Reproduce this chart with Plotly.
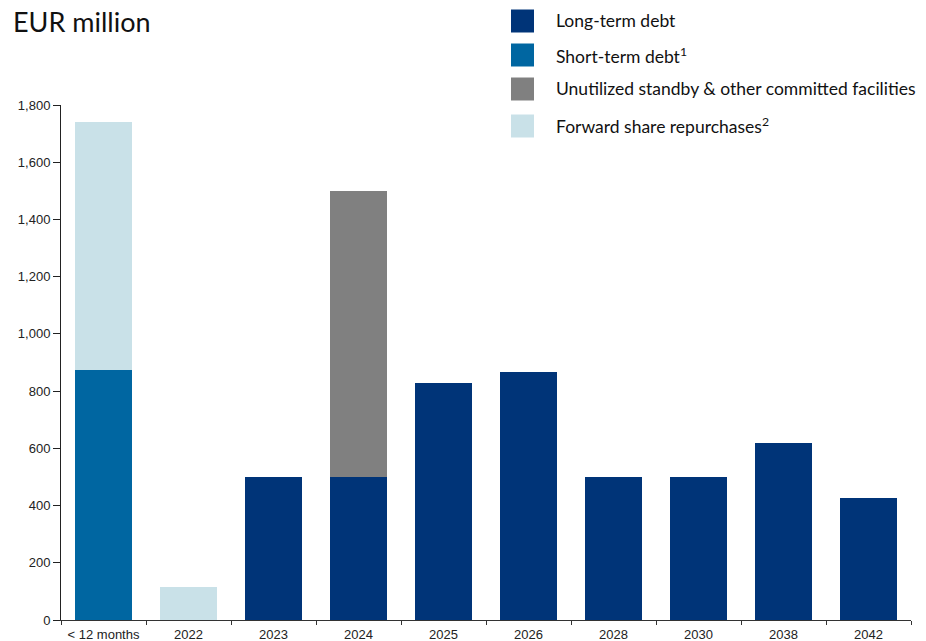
import plotly.graph_objects as go

# Maturity buckets on the x-axis
categories = ["< 12 months", "2022", "2023", "2024", "2025", "2026",
              "2028", "2030", "2038", "2042"]

# EUR million per bucket, by funding source
long_term_debt = [0, 0, 500, 500, 827, 868, 500, 500, 619, 426]
short_term_debt = [873, 0, 0, 0, 0, 0, 0, 0, 0, 0]
unutilized_facilities = [0, 0, 0, 1000, 0, 0, 0, 0, 0, 0]
forward_repurchases = [869, 115, 0, 0, 0, 0, 0, 0, 0, 0]

series_names = [
    "Long-term debt",
    "Short-term debt<sup>1</sup>",
    "Unutilized standby & other committed facilities",
    "Forward share repurchases<sup>2</sup>",
]
series_values = [long_term_debt, short_term_debt, unutilized_facilities, forward_repurchases]
series_colors = ["#003478", "#0066A1", "#808080", "#C9E1E8"]

y_ticks = [0, 200, 400, 600, 800, 1000, 1200, 1400, 1600, 1800]
y_tick_labels = ["0", "200", "400", "600", "800", "1,000", "1,200", "1,400", "1,600", "1,800"]

fig = go.Figure()
for name, vals, color in zip(series_names, series_values, series_colors):
    fig.add_trace(go.Bar(
        x=categories, y=vals, name=name,
        marker=dict(color=color, line=dict(width=0)),
        showlegend=False,
    ))

W, H = 926, 641
m_l, m_r, m_t, m_b = 61, 15, 105, 21

tick_font = dict(family="Liberation Sans, Arial, sans-serif", size=13, color="#222222")

fig.update_layout(
    width=W, height=H,
    barmode="stack", bargap=0.326,
    plot_bgcolor="white", paper_bgcolor="white",
    margin=dict(l=m_l, r=m_r, t=m_t, b=m_b, autoexpand=False),
    font=tick_font,
    xaxis=dict(
        categoryorder="array", categoryarray=categories,
        showline=True, linecolor="#333333", linewidth=1,
        ticks="outside", tickson="boundaries", ticklen=4, tickcolor="#333333",
        tickfont=tick_font, automargin=False, ticklabelstandoff=2,
        showgrid=False, zeroline=False,
    ),
    yaxis=dict(
        range=[0, 1800], tickvals=y_ticks, ticktext=y_tick_labels,
        showline=True, linecolor="#222222", linewidth=1,
        ticks="outside", ticklen=7, tickcolor="#222222",
        tickfont=tick_font, automargin=False,
        showgrid=False, zeroline=False,
    ),
)

plot_w = W - m_l - m_r
plot_h = H - m_t - m_b

# Title
fig.add_annotation(
    text="EUR million", xref="paper", yref="paper",
    x=(11 - m_l) / plot_w, y=1 + (m_t - 3) / plot_h,
    xanchor="left", yanchor="top", showarrow=False,
    font=dict(family="Lato, Calibri, sans-serif", size=27, color="#111111"),
)

# Legend: large colour swatches with labels
legend_centers = [21, 55, 89, 126]
for name, color, cy in zip(series_names, series_colors, legend_centers):
    fig.add_shape(type="rect", xref="paper", yref="paper",
                  x0=(511 - m_l) / plot_w, x1=(534 - m_l) / plot_w,
                  y0=1 + (m_t - (cy + 11.5)) / plot_h,
                  y1=1 + (m_t - (cy - 11.5)) / plot_h,
                  fillcolor=color, line=dict(width=0))
    fig.add_annotation(
        text=name, xref="paper", yref="paper",
        x=(554 - m_l) / plot_w, y=1 + (m_t - cy) / plot_h,
        xanchor="left", yanchor="middle", showarrow=False,
        font=dict(family="Lato, Calibri, sans-serif", size=17.5, color="#111111"),
    )

fig.write_html("out.html")
